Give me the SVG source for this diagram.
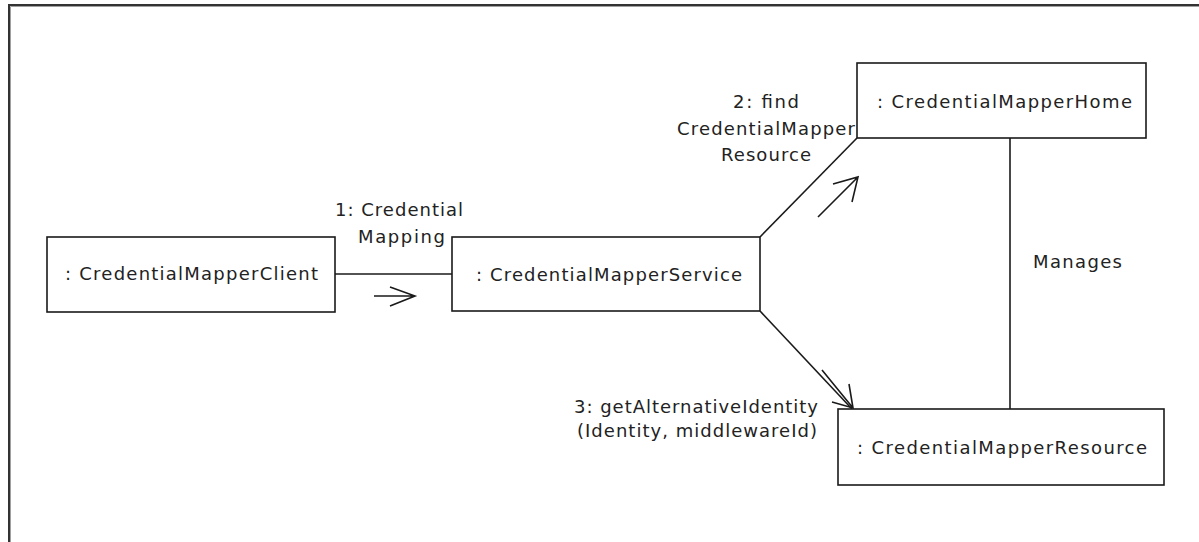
<svg xmlns="http://www.w3.org/2000/svg" width="1199" height="542" viewBox="0 0 1199 542">
  <style>
    .box { fill: #ffffff; stroke: #1a1a1a; stroke-width: 1.6; }
    .link { fill: none; stroke: #1a1a1a; stroke-width: 1.6; }
    .arrow { fill: none; stroke: #1a1a1a; stroke-width: 1.6; stroke-linejoin: miter; stroke-linecap: butt; }
    text { font-family: "DejaVu Sans", "Liberation Sans", sans-serif; font-size: 18px; fill: #222222; }
  </style>

  <rect width="1199" height="542" fill="#ffffff"/>

  <!-- diagram frame (top and left edges) -->
  <g id="frame">
    <path d="M9,542 V5 H1199" fill="none" stroke="#333333" stroke-width="2"/>
    <path d="M10.5,542 V6.5 H1199" fill="none" stroke="#a0a0a0" stroke-width="1"/>
  </g>

  <!-- links and message arrows -->
  <g id="connectors">
    <!-- client -> service -->
    <line class="link" x1="335" y1="274" x2="452" y2="274"/>
    <path class="arrow" d="M374,296 H415 M390,287 L415,296 L390,306"/>
    <text x="335" y="216" textLength="128" lengthAdjust="spacing">1: Credential</text>
    <text x="358" y="243" textLength="87" lengthAdjust="spacing">Mapping</text>

    <!-- service -> home -->
    <line class="link" x1="760" y1="237" x2="857" y2="138"/>
    <path class="arrow" d="M818,217 L858,177 M833,184 L858,177 L852,202"/>
    <text x="733" y="108" textLength="66" lengthAdjust="spacing">2: find</text>
    <text x="677" y="135" textLength="178" lengthAdjust="spacing">CredentialMapper</text>
    <text x="721" y="161" textLength="90" lengthAdjust="spacing">Resource</text>

    <!-- service -> resource -->
    <line class="link" x1="760" y1="311" x2="852" y2="409"/>
    <path class="arrow" d="M822,370 L853,408 M849,384 L853,408 L832,402"/>
    <text x="574" y="413" textLength="244" lengthAdjust="spacing">3: getAlternativeIdentity</text>
    <text x="577" y="437" textLength="240" lengthAdjust="spacing">(Identity, middlewareId)</text>

    <!-- home manages resource -->
    <line class="link" x1="1010" y1="138" x2="1010" y2="409"/>
    <text x="1033" y="268" textLength="89" lengthAdjust="spacing">Manages</text>
  </g>

  <g id="node-client">
    <rect class="box" x="47" y="237" width="288" height="75"/>
    <text x="65" y="280" textLength="253" lengthAdjust="spacing">: CredentialMapperClient</text>
  </g>

  <g id="node-service">
    <rect class="box" x="452" y="237" width="308" height="74"/>
    <text x="476" y="281" textLength="266" lengthAdjust="spacing">: CredentialMapperService</text>
  </g>

  <g id="node-home">
    <rect class="box" x="857" y="63" width="289" height="75"/>
    <text x="877" y="108" textLength="255" lengthAdjust="spacing">: CredentialMapperHome</text>
  </g>

  <g id="node-resource">
    <rect class="box" x="838" y="409" width="326" height="76"/>
    <text x="857" y="454" textLength="290" lengthAdjust="spacing">: CredentialMapperResource</text>
  </g>
</svg>
